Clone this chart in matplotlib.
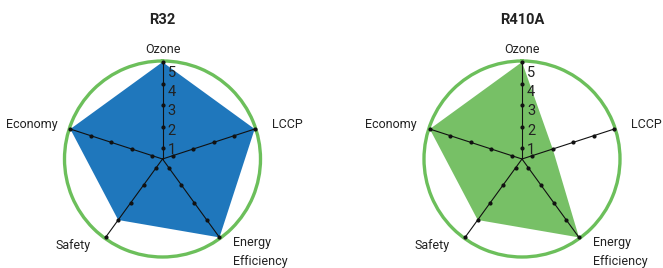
import numpy as np
import matplotlib
matplotlib.use("Agg")
import matplotlib.pyplot as plt

categories = ["Ozone", "LCCP", "Energy\nEfficiency", "Safety", "Economy"]
titles = ["R32", "R410A"]
r32_values = [5, 5, 5, 4, 5]
r410a_values = [5, 2, 5, 4, 5]
scale_ticks = [1, 2, 3, 4, 5]

fill_colors = ["#1f77bc", "#77c066"]
circle_color = "#6cbf5b"

plt.rcParams['font.family'] = ['Roboto', 'DejaVu Sans']
FS = dict(family=['Roboto', 'DejaVu Sans'])

fig = plt.figure(figsize=(6.63, 2.68), dpi=100)

W, H = 663, 268
R_PX = 98
centers = [(162.5, 159), (522, 159)]

label_cfg = [
    ((0, 13), 'center', 'center'),
    ((17, 5), 'left', 'center'),
    ((14, 1), 'left', 'top'),
    ((-15, -8), 'right', 'center'),
    ((-13, 5), 'right', 'center'),
]

n = len(categories)
angles = np.arange(n) * 2 * np.pi / n
RMIN, RMAX = 0.5, 5.05

for (cx, cy), title, vals, fc in zip(centers, titles, [r32_values, r410a_values], fill_colors):
    left = (cx - R_PX) / W
    bottom = (H - cy - R_PX) / H
    ax = fig.add_axes([left, bottom, 2 * R_PX / W, 2 * R_PX / H], projection='polar')
    ax.set_theta_offset(np.pi / 2)
    ax.set_theta_direction(-1)
    ax.set_ylim(RMIN, RMAX)
    ax.set_xticks([])
    ax.set_yticks([])
    ax.grid(False)
    ax.spines['polar'].set_color(circle_color)
    ax.spines['polar'].set_linewidth(2.4)
    ax.patch.set_alpha(0)

    th = np.concatenate([angles, angles[:1]])
    v = np.concatenate([vals, vals[:1]])
    ax.fill(th, v, color=fc, zorder=1, lw=0)

    for a in angles:
        ax.plot([a, a], [RMIN, 5], color='#111111', lw=0.8, zorder=3, clip_on=False)
        ax.plot([a] * len(scale_ticks), scale_ticks, 'o', color='#111111', ms=2.0,
                zorder=4, clip_on=False)

    for t in scale_ticks:
        ax.annotate(str(t), xy=(0, t - 0.1 * (t - 1)), xytext=(5, -2),
                    textcoords='offset pixels', ha='left', va='center',
                    fontsize=10.5, color='#222222', **FS)

    for a, cat, (off, ha, va) in zip(angles, categories, label_cfg):
        ax.annotate(cat, xy=(a, 5), xytext=off, textcoords='offset pixels',
                    ha=ha, va=va, fontsize=9, color='#222222',
                    linespacing=1.6, annotation_clip=False, **FS)

    ax.text(0.5, 1.21, title, transform=ax.transAxes, ha='center', va='center',
            fontsize=10.5, fontweight='bold', color='#222222', **FS)

fig.savefig("out.png", dpi=100)
